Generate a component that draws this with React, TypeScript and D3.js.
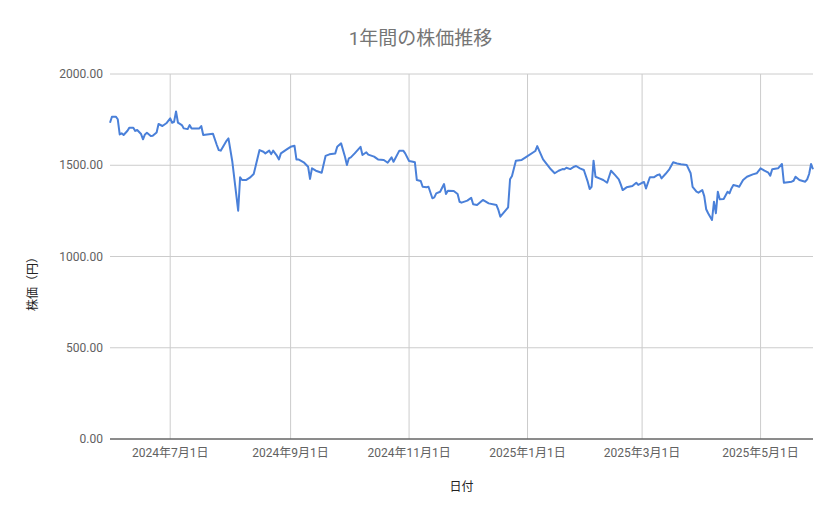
import React from 'react';
import * as d3 from 'd3';

const dates: string[] = [
  '2024-05-31', '2024-06-01', '2024-06-03', '2024-06-04', '2024-06-05', '2024-06-06', '2024-06-07', '2024-06-09',
  '2024-06-10', '2024-06-12', '2024-06-13', '2024-06-14', '2024-06-16', '2024-06-17', '2024-06-18', '2024-06-19',
  '2024-06-21', '2024-06-22', '2024-06-24', '2024-06-25', '2024-06-27', '2024-06-29', '2024-07-01', '2024-07-02',
  '2024-07-03', '2024-07-04', '2024-07-05', '2024-07-07', '2024-07-08', '2024-07-10', '2024-07-11', '2024-07-12',
  '2024-07-16', '2024-07-17', '2024-07-18', '2024-07-23', '2024-07-25', '2024-07-26', '2024-07-27', '2024-07-30',
  '2024-07-31', '2024-08-02', '2024-08-05', '2024-08-06', '2024-08-07', '2024-08-09', '2024-08-11', '2024-08-13',
  '2024-08-16', '2024-08-18', '2024-08-19', '2024-08-21', '2024-08-22', '2024-08-23', '2024-08-25', '2024-08-26',
  '2024-08-27', '2024-08-30', '2024-09-01', '2024-09-03', '2024-09-04', '2024-09-05', '2024-09-08', '2024-09-10',
  '2024-09-11', '2024-09-12', '2024-09-14', '2024-09-17', '2024-09-19', '2024-09-21', '2024-09-24', '2024-09-25',
  '2024-09-27', '2024-09-29', '2024-09-30', '2024-10-01', '2024-10-02', '2024-10-04', '2024-10-07', '2024-10-08',
  '2024-10-10', '2024-10-11', '2024-10-14', '2024-10-16', '2024-10-19', '2024-10-21', '2024-10-23', '2024-10-24',
  '2024-10-27', '2024-10-29', '2024-10-30', '2024-11-01', '2024-11-03', '2024-11-04', '2024-11-05', '2024-11-07',
  '2024-11-08', '2024-11-10', '2024-11-11', '2024-11-13', '2024-11-14', '2024-11-15', '2024-11-17', '2024-11-19',
  '2024-11-20', '2024-11-21', '2024-11-24', '2024-11-26', '2024-11-27', '2024-11-28', '2024-12-01', '2024-12-03',
  '2024-12-04', '2024-12-06', '2024-12-09', '2024-12-12', '2024-12-16', '2024-12-17', '2024-12-18', '2024-12-22',
  '2024-12-23', '2024-12-24', '2024-12-26', '2024-12-29', '2024-12-31', '2025-01-05', '2025-01-06', '2025-01-07',
  '2025-01-09', '2025-01-11', '2025-01-13', '2025-01-15', '2025-01-17', '2025-01-19', '2025-01-20', '2025-01-21',
  '2025-01-23', '2025-01-25', '2025-01-26', '2025-01-28', '2025-01-30', '2025-02-01', '2025-02-02', '2025-02-03',
  '2025-02-04', '2025-02-05', '2025-02-07', '2025-02-09', '2025-02-11', '2025-02-13', '2025-02-15', '2025-02-17',
  '2025-02-18', '2025-02-19', '2025-02-21', '2025-02-24', '2025-02-26', '2025-02-27', '2025-03-01', '2025-03-02',
  '2025-03-03', '2025-03-05', '2025-03-07', '2025-03-09', '2025-03-10', '2025-03-11', '2025-03-13', '2025-03-15',
  '2025-03-17', '2025-03-19', '2025-03-21', '2025-03-24', '2025-03-26', '2025-03-27', '2025-03-29', '2025-03-30',
  '2025-04-01', '2025-04-02', '2025-04-03', '2025-04-04', '2025-04-06', '2025-04-07', '2025-04-08', '2025-04-09',
  '2025-04-10', '2025-04-12', '2025-04-14', '2025-04-15', '2025-04-16', '2025-04-17', '2025-04-19', '2025-04-20',
  '2025-04-22', '2025-04-24', '2025-04-27', '2025-04-29', '2025-05-01', '2025-05-03', '2025-05-05', '2025-05-06',
  '2025-05-07', '2025-05-10', '2025-05-12', '2025-05-13', '2025-05-17', '2025-05-18', '2025-05-19', '2025-05-21',
  '2025-05-24', '2025-05-25', '2025-05-26', '2025-05-27', '2025-05-28',
];

const prices: number[] = [
  1733, 1766, 1766, 1752, 1669, 1675, 1666, 1689,
  1706, 1706, 1688, 1693, 1671, 1642, 1669, 1678,
  1660, 1662, 1680, 1726, 1715, 1730, 1757, 1733,
  1738, 1795, 1733, 1720, 1702, 1698, 1720, 1702,
  1702, 1715, 1666, 1673, 1611, 1583, 1580, 1634,
  1647, 1519, 1251, 1434, 1419, 1419, 1432, 1452,
  1583, 1574, 1565, 1580, 1561, 1580, 1551, 1532,
  1565, 1587, 1601, 1607, 1532, 1532, 1514, 1492,
  1425, 1483, 1470, 1459, 1551, 1560, 1565, 1601,
  1620, 1547, 1501, 1538, 1543, 1565, 1601, 1556,
  1571, 1558, 1547, 1532, 1529, 1514, 1543, 1519,
  1580, 1580, 1565, 1523, 1519, 1516, 1419, 1414,
  1382, 1379, 1382, 1319, 1324, 1346, 1355, 1397,
  1342, 1360, 1359, 1342, 1300, 1295, 1306, 1322,
  1286, 1282, 1310, 1291, 1282, 1255, 1218, 1269,
  1423, 1441, 1525, 1529, 1543, 1578, 1605, 1580,
  1532, 1505, 1478, 1456, 1470, 1479, 1478, 1486,
  1479, 1492, 1496, 1483, 1474, 1410, 1370, 1382,
  1525, 1437, 1428, 1419, 1404, 1470, 1447, 1423,
  1395, 1364, 1379, 1386, 1404, 1392, 1404, 1408,
  1373, 1434, 1434, 1447, 1450, 1428, 1452, 1478,
  1516, 1510, 1505, 1501, 1456, 1382, 1355, 1350,
  1364, 1331, 1259, 1237, 1200, 1300, 1237, 1355,
  1313, 1315, 1355, 1346, 1373, 1392, 1386, 1382,
  1419, 1437, 1450, 1456, 1483, 1470, 1459, 1443,
  1478, 1483, 1507, 1404, 1410, 1415, 1437, 1419,
  1410, 1423, 1452, 1507, 1478,
];

const yTicks: number[] = [0, 500, 1000, 1500, 2000];

const title = '1年間の株価推移';
const xTitle = '日付';
const yTitle = '株価（円）';

const W = 839;
const H = 519;
const margin = { top: 74, right: 26, bottom: 80, left: 110 };
const FONT = "Roboto, 'Noto Sans CJK JP', sans-serif";

const parse = d3.timeParse('%Y-%m-%d');

export default function App() {
  const points = dates.map((d, i) => ({ date: parse(d) as Date, value: prices[i] }));

  const x = d3
    .scaleTime()
    .domain(d3.extent(points, (p) => p.date) as [Date, Date])
    .range([margin.left, W - margin.right]);
  const y = d3.scaleLinear().domain([0, 2000]).range([H - margin.bottom, margin.top]);

  const xTicks = x.ticks(d3.timeMonth.every(2) as d3.TimeInterval);
  const fmtDate = (d: Date) => `${d.getFullYear()}年${d.getMonth() + 1}月${d.getDate()}日`;

  const line = d3
    .line<{ date: Date; value: number }>()
    .x((p) => x(p.date))
    .y((p) => y(p.value));

  const x0 = margin.left;
  const x1 = W - margin.right;
  const y0 = H - margin.bottom;
  const y1 = margin.top;

  return (
    <svg
      width={W}
      height={H}
      style={{ position: 'absolute', left: 0, top: 0, background: '#fff' }}
      fontFamily={FONT}
    >
      <rect width={W} height={H} fill="#fff" />
      <text x={W / 2 + 1} y={45} textAnchor="middle" fontSize={19} fill="#757575">
        {title}
      </text>

      {/* grid */}
      {yTicks.map((t) => (
        <line key={'gy' + t} x1={x0} x2={x1} y1={y(t)} y2={y(t)} stroke="#cccccc" strokeWidth={1} />
      ))}
      {xTicks.map((t) => (
        <line key={'gx' + t.getTime()} x1={x(t)} x2={x(t)} y1={y1} y2={y0} stroke="#cccccc" strokeWidth={1} />
      ))}

      {/* y labels */}
      {yTicks.map((t) => (
        <text key={'ly' + t} x={x0 - 7} y={y(t)} dy="0.35em" textAnchor="end" fontSize={12} fill="#616161">
          {d3.format('.2f')(t)}
        </text>
      ))}

      {/* x labels */}
      {xTicks.map((t) => (
        <text key={'lx' + t.getTime()} x={x(t)} y={y0 + 18} textAnchor="middle" fontSize={12} fill="#616161">
          {fmtDate(t)}
        </text>
      ))}

      <path d={line(points) || ''} fill="none" stroke="#4a80d9" strokeWidth={2} strokeLinejoin="round" />

      <line x1={x0} x2={x1} y1={y(0)} y2={y(0)} stroke="#333333" strokeWidth={1} />

      <text x={(x0 + x1) / 2} y={491} textAnchor="middle" fontSize={12} fill="#222">
        {xTitle}
      </text>
      <text
        transform={`translate(37, 281) rotate(-90)`}
        textAnchor="middle"
        fontSize={12}
        fill="#222"
      >
        {yTitle}
      </text>
    </svg>
  );
}
